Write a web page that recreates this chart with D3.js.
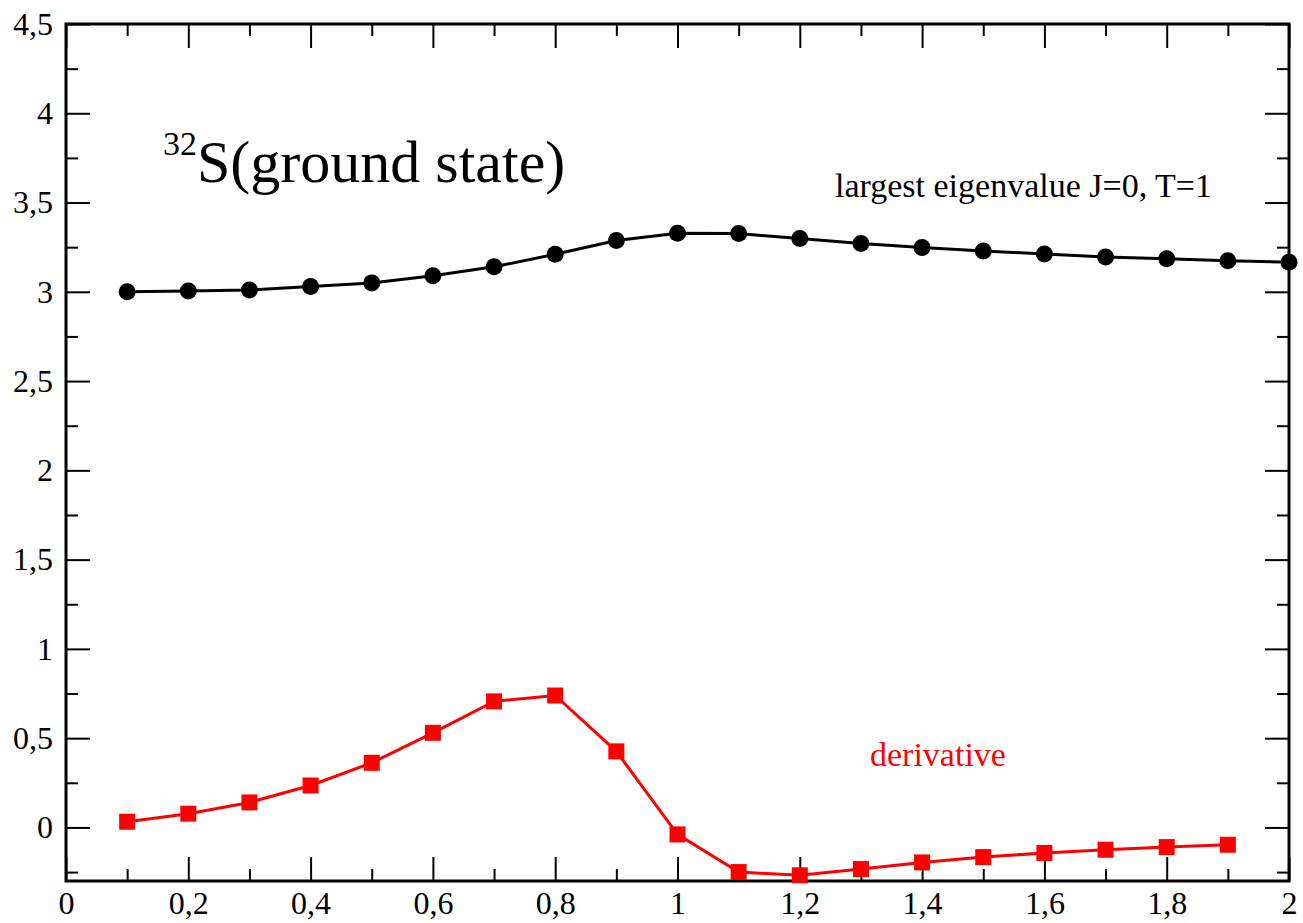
<!DOCTYPE html>
<html>
<head>
<meta charset="utf-8">
<script src="https://cdn.jsdelivr.net/npm/d3@7"></script>
<style>
  html, body { margin: 0; padding: 0; background: #fff; }
  svg { display: block; }
</style>
</head>
<body>
<svg id="chart" width="1303" height="923"></svg>
<script>
const xValues = [0.1, 0.2, 0.3, 0.4, 0.5, 0.6, 0.7, 0.8, 0.9, 1.0, 1.1, 1.2, 1.3, 1.4, 1.5, 1.6, 1.7, 1.8, 1.9, 2.0];
const eigenvalue = [3.00, 3.005, 3.01, 3.03, 3.05, 3.09, 3.14, 3.21, 3.287, 3.328, 3.326, 3.298, 3.270, 3.248, 3.229, 3.212, 3.195, 3.185, 3.174, 3.166];
const derivX = [0.1, 0.2, 0.3, 0.4, 0.5, 0.6, 0.7, 0.8, 0.9, 1.0, 1.1, 1.2, 1.3, 1.4, 1.5, 1.6, 1.7, 1.8, 1.9];
const derivative = [0.032, 0.077, 0.140, 0.235, 0.362, 0.530, 0.706, 0.739, 0.426, -0.039, -0.250, -0.268, -0.233, -0.196, -0.166, -0.143, -0.125, -0.110, -0.097];
const xTickValues = [0, 0.2, 0.4, 0.6, 0.8, 1, 1.2, 1.4, 1.6, 1.8, 2];
const xTickLabels = ["0", "0,2", "0,4", "0,6", "0,8", "1", "1,2", "1,4", "1,6", "1,8", "2"];
const xMinorValues = [0.1, 0.3, 0.5, 0.7, 0.9, 1.1, 1.3, 1.5, 1.7, 1.9];
const yTickValues = [0, 0.5, 1, 1.5, 2, 2.5, 3, 3.5, 4, 4.5];
const yTickLabels = ["0", "0,5", "1", "1,5", "2", "2,5", "3", "3,5", "4", "4,5"];
const yMinorValues = [-0.25, 0.25, 0.75, 1.25, 1.75, 2.25, 2.75, 3.25, 3.75, 4.25];

const FONT = "'Liberation Serif', 'Times New Roman', serif";
const margin = {left: 66, right: 14, top: 24, bottom: 42};
const W = 1303, H = 923;
const svg = d3.select("#chart");
const x = d3.scaleLinear().domain([0, 2]).range([margin.left, W - margin.right]);
const y = d3.scaleLinear().domain([-0.3, 4.5]).range([H - margin.bottom, margin.top]);

const major = 24, minor = 12;
function styleAxis(g) {
  g.attr("font-family", FONT).attr("font-size", 32);
  g.select(".domain").remove();
  g.selectAll(".tick line").attr("stroke", "#000").attr("stroke-width", 2);
  g.selectAll(".tick text").attr("fill", "#000").attr("font-family", FONT).attr("font-size", 32);
}
const fmtX = d => xTickLabels[xTickValues.indexOf(d)];
const fmtY = d => yTickLabels[yTickValues.indexOf(d)];

// bottom
svg.append("g").attr("transform", `translate(0,${y(-0.3)})`)
  .call(d3.axisTop(x).tickValues(xTickValues).tickSize(major).tickFormat(""))
  .call(styleAxis);
svg.append("g").attr("transform", `translate(0,${y(-0.3)})`)
  .call(d3.axisTop(x).tickValues(xMinorValues).tickSize(minor).tickFormat(""))
  .call(styleAxis);
svg.append("g").attr("transform", `translate(0,${y(-0.3)})`)
  .call(d3.axisBottom(x).tickValues(xTickValues).tickSize(0).tickPadding(10).tickFormat(fmtX))
  .call(styleAxis);
// top
svg.append("g").attr("transform", `translate(0,${y(4.5)})`)
  .call(d3.axisBottom(x).tickValues(xTickValues).tickSize(major).tickFormat(""))
  .call(styleAxis);
svg.append("g").attr("transform", `translate(0,${y(4.5)})`)
  .call(d3.axisBottom(x).tickValues(xMinorValues).tickSize(minor).tickFormat(""))
  .call(styleAxis);
// left
svg.append("g").attr("transform", `translate(${x(0)},0)`)
  .call(d3.axisRight(y).tickValues(yTickValues).tickSize(major).tickFormat(""))
  .call(styleAxis);
svg.append("g").attr("transform", `translate(${x(0)},0)`)
  .call(d3.axisRight(y).tickValues(yMinorValues).tickSize(minor).tickFormat(""))
  .call(styleAxis);
svg.append("g").attr("transform", `translate(${x(0)},0)`)
  .call(d3.axisLeft(y).tickValues(yTickValues).tickSize(0).tickPadding(13).tickFormat(fmtY))
  .call(styleAxis);
// right
svg.append("g").attr("transform", `translate(${x(2)},0)`)
  .call(d3.axisLeft(y).tickValues(yTickValues).tickSize(major).tickFormat(""))
  .call(styleAxis);
svg.append("g").attr("transform", `translate(${x(2)},0)`)
  .call(d3.axisLeft(y).tickValues(yMinorValues).tickSize(minor).tickFormat(""))
  .call(styleAxis);

// frame
svg.append("rect").attr("x", x(0)).attr("y", y(4.5))
  .attr("width", x(2) - x(0)).attr("height", y(-0.3) - y(4.5))
  .attr("fill", "none").attr("stroke", "#000").attr("stroke-width", 3);

const line = d3.line().x(d => x(d[0])).y(d => y(d[1]));
const eigPts = xValues.map((v, i) => [v, eigenvalue[i]]);
const derPts = derivX.map((v, i) => [v, derivative[i]]);

svg.append("path").datum(eigPts).attr("d", line)
  .attr("fill", "none").attr("stroke", "#000").attr("stroke-width", 3);
svg.selectAll("circle.eig").data(eigPts).enter().append("circle")
  .attr("class", "eig").attr("cx", d => x(d[0])).attr("cy", d => y(d[1]))
  .attr("r", 8.5).attr("fill", "#000");

svg.append("path").datum(derPts).attr("d", line)
  .attr("fill", "none").attr("stroke", "#ff0000").attr("stroke-width", 3);
const sq = 16;
svg.selectAll("rect.der").data(derPts).enter().append("rect")
  .attr("class", "der").attr("x", d => x(d[0]) - sq / 2).attr("y", d => y(d[1]) - sq / 2)
  .attr("width", sq).attr("height", sq).attr("fill", "#ff0000");

// annotations
const title = svg.append("text").attr("x", 163).attr("y", 182)
  .attr("font-family", FONT).attr("font-size", 60).attr("fill", "#000");
title.append("tspan").text("32").attr("font-size", 34).attr("dy", -27);
title.append("tspan").text("S(ground state)").attr("dy", 27);

svg.append("text").attr("x", 835).attr("y", 197)
  .attr("font-family", FONT).attr("font-size", 34).attr("fill", "#000")
  .text("largest eigenvalue J=0, T=1");
svg.append("text").attr("x", 870).attr("y", 766)
  .attr("font-family", FONT).attr("font-size", 34).attr("fill", "#ff0000")
  .text("derivative");
</script>
</body>
</html>
